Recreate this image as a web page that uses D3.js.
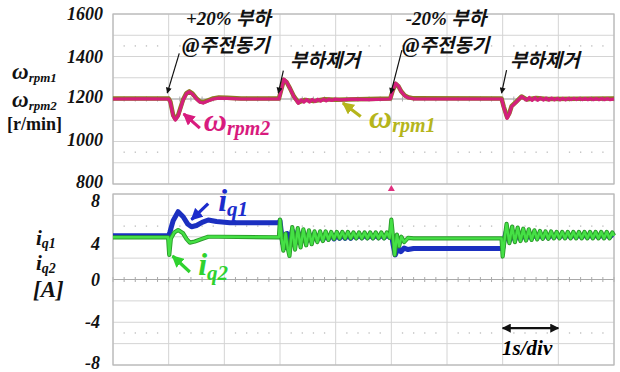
<!DOCTYPE html>
<html>
<head>
<meta charset="utf-8">
<script src="https://cdn.jsdelivr.net/npm/d3@7"></script>
<style>
body{margin:0;background:#fff}
.tick{font-family:'Liberation Serif','Times New Roman',serif;font-weight:bold;font-style:italic;font-size:18px;fill:#111}
.kr{font-family:'Noto Sans CJK KR',sans-serif;font-weight:700;font-style:italic;font-size:19px;fill:#111}
.serif{font-family:'Liberation Serif','Times New Roman',serif;font-weight:bold;font-style:italic}
</style>
</head>
<body>
<svg id="viewer"></svg>
<script>
// time axis, 1 s per division
var timeTicks = [0,1,2,3,4,5,6,7,8,9];
var speedTicks = [1600,1400,1200,1000,800];
var currentTicks = [8,4,0,-4,-8];
var eventTimes = [1,3,5,7];

// omega_rpm2 (magenta) [s, r/min]
var wRpm2 = [
  [0,1200],[0.5,1201],[1.0,1200],[1.03,1185],[1.08,1120],[1.12,1101],[1.17,1120],[1.26,1195],
  [1.32,1225],[1.37,1234],[1.43,1222],[1.5,1200],[1.56,1185],[1.62,1181],[1.7,1190],[1.8,1200],
  [1.9,1204],[2.05,1203],[2.3,1200],[2.98,1200],[3.02,1240],[3.07,1293],[3.12,1280],[3.18,1250],
  [3.25,1210],[3.33,1180],[3.38,1196],[3.43,1185],[3.48,1198],[3.53,1186],[3.58,1198],[3.63,1188],
  [3.68,1199],[3.73,1190],[3.78,1199],[3.83,1191],[3.88,1199],[3.93,1193],[3.98,1199],[4.1,1196],
  [4.3,1199],[4.6,1197],[4.98,1200],[5.03,1245],[5.08,1274],[5.13,1260],[5.18,1234],[5.24,1215],
  [5.3,1206],[5.4,1201],[6.0,1200],[6.98,1200],[7.02,1160],[7.08,1109],[7.12,1130],[7.16,1164],
  [7.25,1187],[7.34,1211],[7.43,1195],[7.48,1207],[7.53,1194],[7.58,1206],[7.63,1194],[7.68,1205],
  [7.73,1195],[7.78,1204],[7.83,1195],[7.88,1204],[7.93,1196],[7.98,1203],[8.03,1196],[8.08,1203],
  [8.13,1196],[8.18,1203],[8.23,1197],[8.28,1203],[8.33,1197],[8.38,1203],[8.43,1197],[8.48,1202],
  [8.53,1197],[8.58,1202],[8.63,1197],[8.68,1202],[8.73,1197],[8.78,1202],[8.83,1197],[8.88,1202],
  [8.93,1197],[9.0,1200]
];
// omega_rpm1 (olive), mostly hidden under rpm2
var wRpm1 = [
  [0,1202],[1.0,1202],[1.03,1188],[1.08,1124],[1.12,1106],[1.17,1124],[1.26,1198],[1.32,1228],
  [1.37,1236],[1.43,1225],[1.5,1203],[1.56,1189],[1.62,1185],[1.7,1193],[1.8,1203],[1.9,1207],
  [2.05,1206],[2.3,1202],[2.98,1202],[3.02,1242],[3.07,1290],[3.12,1279],[3.18,1250],[3.25,1212],
  [3.33,1184],[3.45,1196],[3.6,1190],[3.8,1199],[4.0,1196],[4.98,1202],[5.03,1244],[5.08,1271],
  [5.13,1259],[5.18,1235],[5.24,1217],[5.3,1208],[5.4,1203],[6.98,1202],[7.02,1163],[7.08,1114],
  [7.12,1133],[7.16,1166],[7.25,1189],[7.34,1212],[7.43,1198],[7.6,1205],[7.8,1200],[9.0,1202]
];
// i_q1 (blue) [s, A]
var iq1 = [
  [0,4.1],[1.0,4.1],[1.02,4.4],[1.08,5.5],[1.17,6.34],[1.26,5.87],[1.34,5.2],[1.41,4.94],
  [1.5,5.05],[1.6,5.35],[1.71,5.57],[1.86,5.42],[2.1,5.3],[2.98,5.3],[3.0,5.5],[3.02,4.6],
  [3.05,3.4],[3.09,3.0],[3.13,4.3],[3.17,3.1],[3.22,4.6],[3.27,3.3],[3.32,4.5],[3.37,3.4],
  [3.42,4.4],[3.47,3.5],[3.52,4.3],[3.57,3.6],[3.62,4.3],[3.67,3.7],[3.72,4.2],[3.77,3.7],
  [3.82,4.2],[3.87,3.8],[3.92,4.2],[3.97,3.8],[4.02,4.15],[4.07,3.85],[4.12,4.15],[4.17,3.85],
  [4.22,4.15],[4.27,3.85],[4.32,4.15],[4.37,3.9],[4.42,4.15],[4.47,3.9],[4.52,4.15],[4.57,3.9],
  [4.62,4.15],[4.67,3.9],[4.72,4.15],[4.77,3.9],[4.82,4.15],[4.87,3.9],[4.92,4.15],[4.97,3.95],
  [5.0,4.3],[5.03,3.3],[5.07,2.3],[5.12,2.9],[5.17,2.6],[5.23,2.95],[5.3,2.8],[5.4,2.9],
  [6.98,2.9],[7.0,2.9],[7.03,3.8],[7.07,4.6],[7.12,3.6],[7.17,4.5],[7.22,3.7],[7.27,4.4],
  [7.32,3.8],[7.37,4.35],[7.42,3.8],[7.47,4.3],[7.52,3.85],[7.57,4.3],[7.62,3.9],[7.67,4.25],
  [7.72,3.9],[7.77,4.25],[7.82,3.9],[7.87,4.2],[7.92,3.95],[7.97,4.2],[8.02,3.95],[8.07,4.2],
  [8.12,3.95],[8.17,4.2],[8.22,3.95],[8.27,4.2],[8.32,3.95],[8.37,4.2],[8.42,3.95],[8.47,4.2],
  [8.52,3.95],[8.57,4.2],[8.62,3.95],[8.67,4.2],[8.72,3.95],[8.77,4.2],[8.82,3.95],[8.87,4.2],
  [8.92,3.95],[8.97,4.2],[9.0,4.1]
];
// i_q2 (green) [s, A]
var iq2 = [
  [0,3.95],[0.99,3.95],[1.01,2.3],[1.04,3.85],[1.1,4.4],[1.17,4.63],[1.26,4.32],[1.32,3.8],
  [1.38,3.45],[1.47,3.55],[1.57,3.75],[1.71,4.0],[1.9,4.0],[2.98,3.95],[3.0,5.6],[3.03,3.8],
  [3.06,2.7],[3.1,4.3],[3.14,2.9],[3.17,2.2],[3.22,4.9],[3.27,2.8],[3.32,4.8],[3.37,3.0],
  [3.42,4.7],[3.47,3.2],[3.52,4.6],[3.57,3.3],[3.62,4.5],[3.67,3.5],[3.72,4.5],[3.77,3.6],
  [3.82,4.5],[3.87,3.7],[3.92,4.45],[3.97,3.8],[4.02,4.45],[4.07,3.85],[4.12,4.45],[4.17,3.85],
  [4.22,4.45],[4.27,3.85],[4.32,4.4],[4.37,3.85],[4.42,4.4],[4.47,3.85],[4.52,4.4],[4.57,3.85],
  [4.62,4.4],[4.67,3.85],[4.72,4.4],[4.77,3.85],[4.82,4.4],[4.87,3.85],[4.92,4.4],[4.97,3.9],
  [5.0,5.6],[5.03,4.0],[5.06,2.3],[5.1,4.2],[5.14,3.1],[5.18,4.0],[5.23,3.5],[5.3,3.9],
  [5.4,3.85],[6.98,3.85],[7.0,2.15],[7.04,4.0],[7.07,5.2],[7.12,3.4],[7.17,4.95],[7.22,3.5],
  [7.27,4.85],[7.32,3.6],[7.37,4.75],[7.42,3.65],[7.47,4.7],[7.52,3.7],[7.57,4.6],[7.62,3.75],
  [7.67,4.55],[7.72,3.8],[7.77,4.5],[7.82,3.8],[7.87,4.5],[7.92,3.85],[7.97,4.45],[8.02,3.85],
  [8.07,4.45],[8.12,3.85],[8.17,4.45],[8.22,3.85],[8.27,4.45],[8.32,3.85],[8.37,4.45],[8.42,3.85],
  [8.47,4.45],[8.52,3.85],[8.57,4.45],[8.62,3.85],[8.67,4.45],[8.72,3.85],[8.77,4.45],[8.82,3.85],
  [8.87,4.45],[8.92,3.85],[8.97,4.4],[9.0,4.1]
];

var W = 620, H = 372;
var svg = d3.select('#viewer').attr('width',W).attr('height',H);

var x = d3.scaleLinear().domain([0,9]).range([113,614]);
var ySpd = d3.scaleLinear().domain([800,1600]).range([184,14]);
var yCur = d3.scaleLinear().domain([-8,8]).range([365,194]);

// markers
var defs = svg.append('defs');
function marker(id, color, len, wid){
  defs.append('marker')
    .attr('id',id).attr('markerUnits','userSpaceOnUse')
    .attr('viewBox','0 0 10 10').attr('refX',9).attr('refY',5)
    .attr('markerWidth',len).attr('markerHeight',wid).attr('orient','auto-start-reverse')
    .append('path').attr('d','M0,0L10,5L0,10z').attr('fill',color);
}
marker('ahBlack','#111',8,6);
marker('ahBig','#111',9,9);
marker('ahMag','#d81b7e',12,12);
marker('ahOli','#b5b51c',12,12);
marker('ahBlue','#1c2ccc',12,12);
marker('ahGreen','#2fd22f',12,12);

function drawPanel(y, gridStep, dotRows, centerVal){
  var d = y.domain();
  var g = svg.append('g');
  var rows = d3.range(d[0], d[1]+gridStep/2, gridStep);
  g.selectAll('.hg').data(rows).enter().append('line')
    .attr('x1',x(0)).attr('x2',x(9))
    .attr('y1',function(v){return y(v);}).attr('y2',function(v){return y(v);})
    .attr('stroke','#d4d4d4').attr('stroke-width',1);
  g.selectAll('.vg').data(timeTicks).enter().append('line')
    .attr('x1',function(t){return x(t);}).attr('x2',function(t){return x(t);})
    .attr('y1',y(d[0])).attr('y2',y(d[1]))
    .attr('stroke','#d4d4d4').attr('stroke-width',1);
  // dotted rows
  var sub = d3.range(0,9.01,0.2).filter(function(t){return Math.abs(t-Math.round(t))>0.01;});
  dotRows.forEach(function(v){
    g.selectAll(null).data(sub).enter().append('rect')
      .attr('x',function(t){return x(t)-0.6;}).attr('y',y(v)-0.6)
      .attr('width',1.3).attr('height',1.3).attr('fill','#bbb');
  });
  // centre axis with minor ticks
  g.append('line').attr('x1',x(0)).attr('x2',x(9))
    .attr('y1',y(centerVal)).attr('y2',y(centerVal))
    .attr('stroke','#aaa');
  g.selectAll(null).data(sub.concat(timeTicks)).enter().append('line')
    .attr('x1',function(t){return x(t);}).attr('x2',function(t){return x(t);})
    .attr('y1',y(centerVal)-2.5).attr('y2',y(centerVal)+2.5)
    .attr('stroke','#aaa');
  g.append('rect').attr('x',x(0)).attr('y',y(d[1]))
    .attr('width',x(9)-x(0)).attr('height',y(d[0])-y(d[1]))
    .attr('fill','none').attr('stroke','#b8b8b8').attr('stroke-width',1.2);
}
drawPanel(ySpd, 100, [1450,950], 1200);
drawPanel(yCur, 2, [5,-5], 0);

// tick labels
svg.selectAll('.spdLbl').data(speedTicks).enter().append('text')
  .attr('class','tick').attr('text-anchor','end')
  .attr('x',103).attr('y',function(v){return ySpd(v)+(v>1200?6:4);})
  .text(function(v){return v;});
svg.selectAll('.curLbl').data(currentTicks).enter().append('text')
  .attr('class','tick').attr('text-anchor','end')
  .attr('x',100).attr('y',function(v){return Math.min(yCur(v)+(v>0?13:6),369);})
  .text(function(v){return v;});

// traces
var lineS = d3.line().x(function(d){return x(d[0]);}).y(function(d){return ySpd(d[1]);});
var lineC = d3.line().x(function(d){return x(d[0]);}).y(function(d){return yCur(d[1]);});
svg.append('path').attr('d',lineS(wRpm1)).attr('fill','none')
  .attr('stroke','#8a7a20').attr('stroke-width',4.5).attr('stroke-linejoin','round');
svg.append('path').attr('d',lineS(wRpm2)).attr('fill','none')
  .attr('stroke','#d41f7c').attr('stroke-width',3.2).attr('stroke-linejoin','round');
svg.append('path').attr('d',lineC(iq1)).attr('fill','none')
  .attr('stroke','#1b2fc0').attr('stroke-width',5).attr('stroke-linejoin','round');
svg.append('path').attr('d',lineC(iq2)).attr('fill','none')
  .attr('stroke','#2a9a2a').attr('stroke-width',4.2).attr('stroke-linejoin','round');
svg.append('path').attr('d',lineC(iq2)).attr('fill','none')
  .attr('stroke','#45e045').attr('stroke-width',2.4).attr('stroke-linejoin','round');

// trigger marker
svg.append('path')
  .attr('d','M'+(x(eventTimes[2])-3.5)+',191L'+(x(eventTimes[2])+3.5)+',191L'+x(eventTimes[2])+',185z')
  .attr('fill','#e0307f');

// event annotations (in data coordinates of the speed panel)
var notes = [
  {lines:[['+20%',' 부하'],['@','주전동기']], t:1.24, v:[1548,1421]},
  {lines:[['','부하제거']], t:3.18, v:[1350]},
  {lines:[['-20%',' 부하'],['@','주전동기']], t:5.19, v:[1548,1421]},
  {lines:[['','부하제거']], t:7.13, v:[1350]}
];
notes.forEach(function(n, i){
  n.lines.forEach(function(l, j){
    var tx = svg.append('text').attr('class','kr')
      .attr('x',x(n.t + (j===0 && n.lines.length>1 ? 0.07 : 0))).attr('y',ySpd(n.v[j]));
    if (l[0]) tx.append('tspan').attr('class','serif').attr('font-size',j===0?19:21).text(l[0]);
    tx.append('tspan').text(l[1]);
  });
});
var blackArrows = [
  [[1.19,1415],[0.975,1228]],
  [[3.06,1333],[2.97,1228]],
  [[5.19,1430],[4.99,1226]],
  [[7.07,1336],[6.98,1228]]
];
blackArrows.forEach(function(a){
  svg.append('line')
    .attr('x1',x(a[0][0])).attr('y1',ySpd(a[0][1]))
    .attr('x2',x(a[1][0])).attr('y2',ySpd(a[1][1]))
    .attr('stroke','#111').attr('stroke-width',1.2).attr('marker-end','url(#ahBlack)');
});

// trace labels
function symLabel(main, sub, px, py, color, mainSize, subSize, dy){
  var t = svg.append('text').attr('class','serif').attr('x',px).attr('y',py).attr('fill',color);
  t.append('tspan').attr('font-size',mainSize).text(main);
  t.append('tspan').attr('font-size',subSize).attr('dy',dy).text(sub);
}
function colArrow(a, yS, id, color){
  svg.append('line')
    .attr('x1',x(a[0][0])).attr('y1',yS(a[0][1]))
    .attr('x2',x(a[1][0])).attr('y2',yS(a[1][1]))
    .attr('stroke',color).attr('stroke-width',3.2).attr('marker-end','url(#'+id+')');
}
symLabel('ω','rpm2', x(1.63), ySpd(1048), '#d81b7e', 32, 20, 4);
colArrow([[1.56,1063],[1.27,1130]], ySpd, 'ahMag', '#d81b7e');
symLabel('ω','rpm1', x(4.6), ySpd(1065), '#b5b51c', 32, 20, 4);
colArrow([[4.45,1118],[4.13,1181]], ySpd, 'ahOli', '#b5b51c');
symLabel('i','q1', x(1.89), yCur(6.4), '#1c2ccc', 32, 21, 5);
colArrow([[1.71,7.1],[1.41,5.6]], yCur, 'ahBlue', '#1c2ccc');
symLabel('i','q2', x(1.53), yCur(0.45), '#2fd22f', 32, 21, 5);
colArrow([[1.38,0.7],[1.07,2.2]], yCur, 'ahGreen', '#2fd22f');

// 1 s/div scale
svg.append('line')
  .attr('x1',x(7)).attr('x2',x(8)).attr('y1',yCur(-4.55)).attr('y2',yCur(-4.55))
  .attr('stroke','#111').attr('stroke-width',2.4)
  .attr('marker-start','url(#ahBig)').attr('marker-end','url(#ahBig)');
svg.append('text').attr('class','serif').attr('font-size',21)
  .attr('x',x(6.99)).attr('y',yCur(-7.05)).text('1s/div');

// axis titles
var spdTitle = svg.append('g').attr('class','serif').attr('fill','#111');
function symLabelAt(g, main, sub, px, py){
  var t = g.append('text').attr('x',px).attr('y',py);
  t.append('tspan').attr('font-size',23).text(main);
  t.append('tspan').attr('font-size',13).attr('dy',3).text(sub);
}
symLabelAt(spdTitle,'ω','rpm1',12,79);
symLabelAt(spdTitle,'ω','rpm2',12,107);
svg.append('text').attr('x',7).attr('y',130)
  .attr('font-family',"'Liberation Serif',serif").attr('font-weight','bold')
  .attr('font-size',18).attr('fill','#111').text('[r/min]');
var curTitle = svg.append('g').attr('class','serif').attr('fill','#111');
[['q1',245],['q2',270]].forEach(function(s){
  var t = curTitle.append('text').attr('x',36).attr('y',s[1]);
  t.append('tspan').attr('font-size',21).text('i');
  t.append('tspan').attr('font-size',14).attr('dy',3).text(s[0]);
});
curTitle.append('text').attr('x',33).attr('y',297).attr('font-size',23).text('[A]');
</script>
</body>
</html>
